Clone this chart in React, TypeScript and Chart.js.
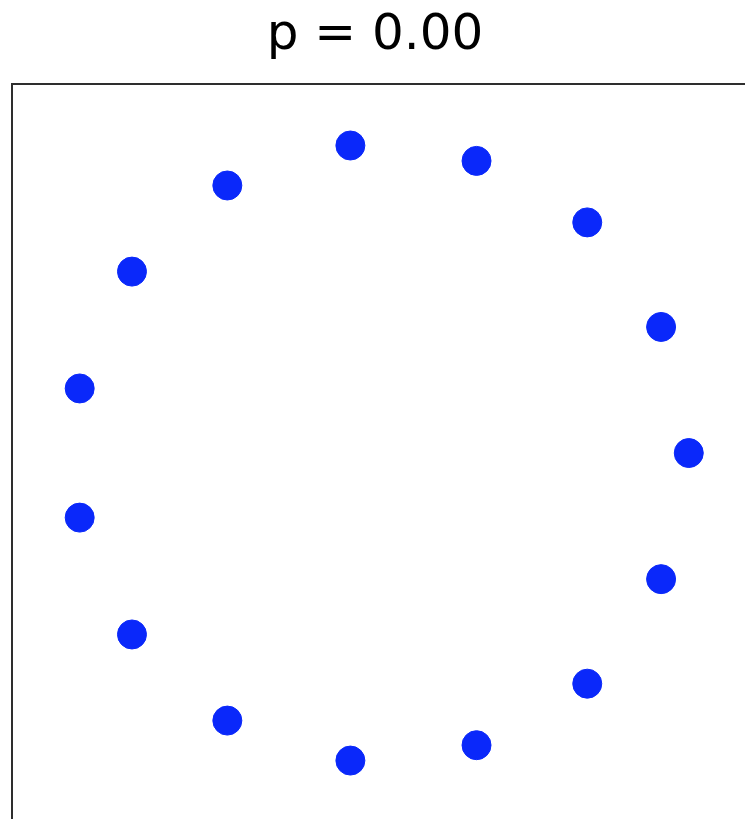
import React, { useEffect, useRef } from "react";
import { Chart, registerables } from "chart.js";

Chart.register(...registerables);

const titleText = "p = 0.00";
const xValues = [-0.11, 0.3, 0.66, 0.9, 0.99, 0.9, 0.66, 0.3, -0.11, -0.51, -0.82, -0.99, -0.99, -0.82, -0.51];
const yValues = [1.0, 0.95, 0.75, 0.41, 0.0, -0.41, -0.75, -0.95, -1.0, -0.87, -0.59, -0.21, 0.21, 0.59, 0.87];
const xRange = [-1.21, 1.15];
const yRange = [-1.19, 1.2];

const W = 745;
const H = 819;

const frame = {
  id: "frame",
  afterDatasetsDraw(chart: any) {
    const { ctx, chartArea } = chart;
    ctx.save();
    ctx.strokeStyle = "#2e2e2e";
    ctx.lineWidth = 2;
    ctx.beginPath();
    ctx.moveTo(chartArea.left, H + 5);
    ctx.lineTo(chartArea.left, chartArea.top);
    ctx.lineTo(W + 5, chartArea.top);
    ctx.stroke();
    ctx.restore();
  },
};

export default function App() {
  const ref = useRef<HTMLCanvasElement>(null);
  useEffect(() => {
    const points = xValues.map((x, i) => ({ x, y: yValues[i] }));
    const chart = new Chart(ref.current as HTMLCanvasElement, {
      type: "scatter",
      data: {
        datasets: [
          {
            data: points,
            backgroundColor: "#0a28fa",
            borderColor: "#0a28fa",
            borderWidth: 1,
            pointRadius: 14.5,
            pointStyle: "circle",
            clip: false,
          },
        ],
      },
      options: {
        animation: false,
        responsive: false,
        events: [],
        layout: { autoPadding: false, padding: { left: 12, right: 7, top: 0, bottom: 0 } },
        plugins: {
          legend: { display: false },
          tooltip: { enabled: false },
          title: {
            display: true,
            text: titleText,
            color: "#000000",
            font: { family: "DejaVu Sans", size: 50, weight: "normal", lineHeight: 1.2 },
            padding: { top: 6, bottom: 18 },
          },
        },
        scales: {
          x: { type: "linear", display: false, min: xRange[0], max: xRange[1] },
          y: { type: "linear", display: false, min: yRange[0], max: yRange[1] },
        },
      },
      plugins: [frame],
    });
    return () => chart.destroy();
  }, []);
  return (
    <div style={{ position: "absolute", left: 0, top: 0, width: W, height: H, overflow: "hidden", background: "#ffffff" }}>
      <canvas ref={ref} width={W} height={H} />
    </div>
  );
}
